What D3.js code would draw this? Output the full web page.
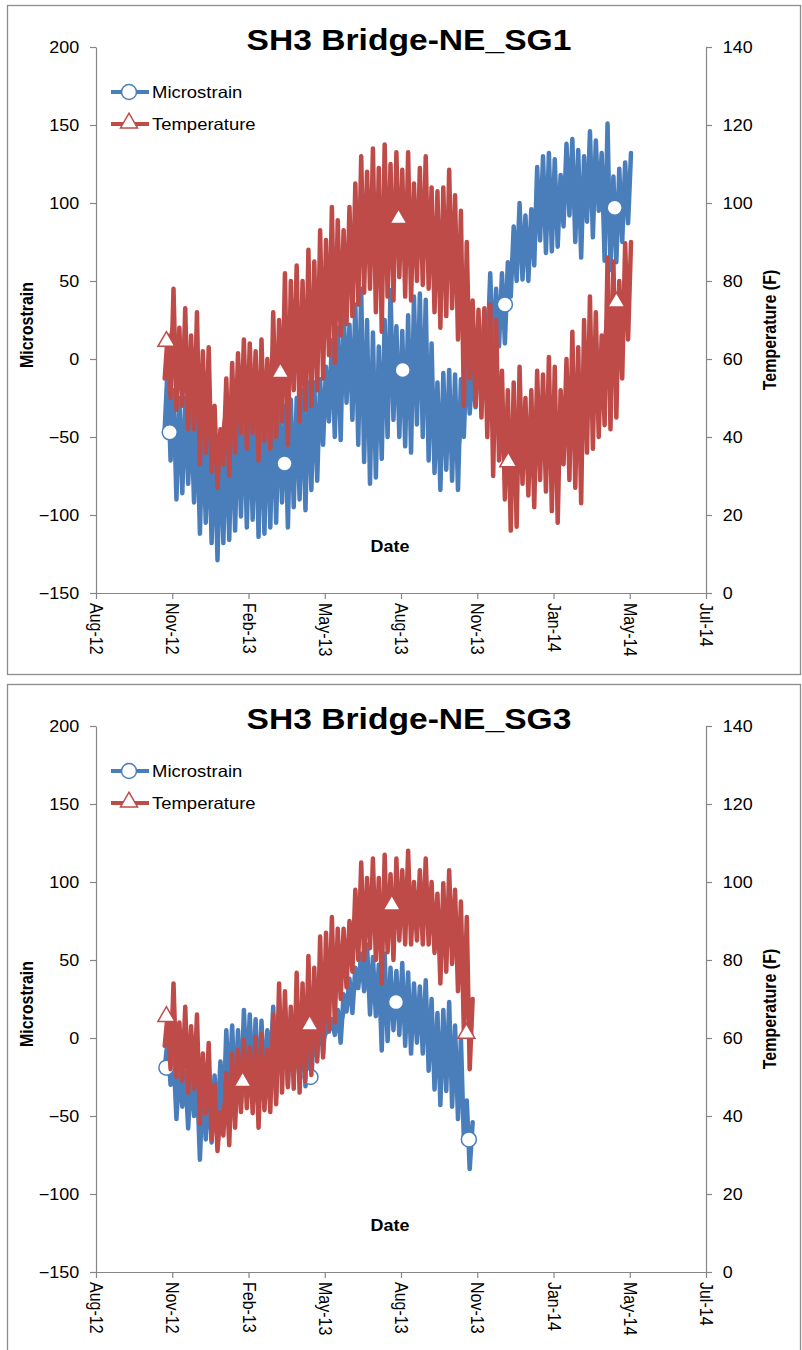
<!DOCTYPE html>
<html>
<head>
<meta charset="utf-8">
<script src="https://cdn.jsdelivr.net/npm/d3@7"></script>
<style>
  body { margin: 0; background: #fff; }
  text { font-family: "Liberation Sans", Arial, sans-serif; }
</style>
</head>
<body>
<div id="chart"></div>
<script>
// axis settings
const xTickLabels = ["Aug-12", "Nov-12", "Feb-13", "May-13", "Aug-13", "Nov-13", "Jan-14", "May-14", "Jul-14"];
const strainTicks = [-150, -100, -50, 0, 50, 100, 150, 200];
const tempTicks = [0, 20, 40, 60, 80, 100, 120, 140];
const axisStart = new Date(2012, 7, 1);
const tickStepDays = 91;

// readings: one high/low pair every 7 days from the first record
const seriesStart = new Date(2012, 9, 22);
const stepDays = 7;

// SG1
const sg1StrainHigh = [-5, -20, -25, -25, -30, -35, -40, -45, -50, -50,
  -45, -40, -35, -30, -35, -30, -35, -30, -30, -28,
  -30, -26, -25, -20, -15, -15, -13, -5, 12, 20,
  33, 22, 35, 45, 25, 17, 8, 25, 44, 21,
  18, 28, 40, 42, 38, 10, -15, -9, -7, -10,
  -13, 6, -5, 15, 30, 55, 45, 55, 62, 85,
  100, 92, 96, 123, 130, 132, 128, 118, 138, 141,
  134, 130, 146, 140, 132, 151, 117, 122, 126, 132];
const sg1StrainLow = [-45, -65, -90, -86, -80, -92, -112, -105, -118, -129,
  -118, -116, -110, -101, -108, -103, -114, -112, -108, -105,
  -92, -108, -95, -90, -97, -84, -78, -55, -40, -50,
  -52, -28, -39, -55, -66, -80, -76, -64, -50, -39,
  -50, -56, -60, -42, -50, -65, -73, -84, -71, -78,
  -84, -50, -35, -31, -10, 4, -5, 8, 10, 40,
  50, 51, 50, 60, 76, 68, 69, 72, 85, 92,
  75, 65, 88, 78, 95, 63, 57, 62, 75, 87];
const sg1TempHigh = [66, 78, 68, 73, 66, 72, 62, 63, 48, 42,
  55, 59, 61.5, 65, 64, 62, 65, 60, 72, 70,
  82, 80, 84, 80, 88, 85, 93, 90.5, 99, 95.6,
  93, 99, 105, 112, 108, 114, 109, 115, 110, 113,
  108.5, 113, 105, 109, 112, 104, 103, 104, 108.5, 102,
  98, 90, 75, 72.6, 73, 74, 70, 57, 52, 54,
  58, 50, 52, 57, 56, 60.5, 58, 52, 60, 67,
  63, 70, 76, 72, 66, 86, 85, 80, 89.7, 90];
const sg1TempLow = [55, 50, 47, 48, 42, 42, 33, 36, 31, 27,
  33, 30, 36, 41, 37, 41, 34, 39, 37, 40,
  44, 38, 52, 44, 47, 48, 52, 55, 61, 59,
  66, 69, 71, 74, 77, 78, 72, 67, 76, 75,
  81, 76, 75, 80, 79, 78, 72, 68, 71, 73,
  65, 48, 55, 48, 45, 40, 30, 34, 24, 16,
  17, 28, 25, 22, 29, 26, 21, 18, 33, 29,
  27, 23, 36, 37, 40, 43, 42, 45, 55, 65];
const sg1StrainMarkers = [["2012-10-28", -47], ["2013-03-14", -67], ["2013-08-02", -7], ["2013-12-02", 35], ["2014-04-12", 97]];
const sg1TempMarkers = [["2012-10-24", 64.5], ["2013-03-09", 56.5], ["2013-07-28", 96], ["2013-12-06", 33.6], ["2014-04-14", 74.6]];

// SG3
const sg3StrainHigh = [-1, -10, -18, -22, -20, -25, -28, -30, -24, -15,
  5, 8, 5, 18, 15, 12, 11, 5, 20, 16,
  19, 14, 7, 6, 8, 11, 19, 15, 12, 18,
  28, 38, 45, 54, 60, 52, 47, 54, 45, 43,
  48, 42, 35, 33, 37, 25, 16, 18, 23, 8,
  0, -40, -54];
const sg3StrainLow = [-20, -30, -52, -44, -58, -50, -78, -65, -67, -57,
  -52, -36, -40, -42, -30, -32, -40, -34, -22, -38,
  -21, -30, -24, -28, -31, -27, -12, -10, 4, 2,
  -3, 17, 16, 32, 30, 15, 14, -8, -2, 5,
  2, -5, -10, -3, -10, -21, -33, -43, -34, -44,
  -52, -65, -84];
const sg3TempHigh = [66, 74, 64, 68, 63, 66, 56, 58.7, 48, 41,
  51, 56, 57, 59.5, 57.7, 60.3, 61, 57, 66, 74,
  72, 68, 76.7, 74, 81, 78, 86, 87, 91, 88,
  88, 90, 98, 105, 101, 106, 101, 107, 102, 106,
  103, 108, 100, 103, 106, 100, 97, 99.7, 103, 98,
  95, 91, 70];
const sg3TempLow = [58, 52, 50, 49, 46, 47, 38, 40.7, 34, 31,
  35, 32.5, 37, 41, 42, 40.7, 37, 41.5, 41, 43,
  46, 47.4, 47, 46, 49, 50.5, 54, 55, 62, 64,
  70, 73, 77, 80, 80, 83, 80, 74, 82, 80,
  85, 84, 84, 85, 84, 84, 81.8, 74, 77, 79,
  72, 62, 52];
const sg3StrainMarkers = [["2012-10-24", -19], ["2013-01-24", -30], ["2013-04-14", -25], ["2013-07-25", 23], ["2013-10-20", -65]];
const sg3TempMarkers = [["2012-10-24", 65.5], ["2013-01-23", 48.8], ["2013-04-13", 63.3], ["2013-07-20", 94.1], ["2013-10-17", 61.2]];

const blue = "#4a7ebb";
const red = "#be4b48";
const axisColor = "#868686";
const stretch = 1.12;
const parseDate = d3.timeParse("%Y-%m-%d");

const svg = d3.select("#chart").append("svg")
  .attr("width", 802)
  .attr("height", 1350);

const tickDates = d3.range(xTickLabels.length).map(i => d3.timeDay.offset(axisStart, i * tickStepDays));

const x = d3.scaleTime()
  .domain([tickDates[0], tickDates[tickDates.length - 1]])
  .range([96, 706]);
const yStrain = d3.scaleLinear().domain([-150, 200]).range([593, 47]);
const yTemp = d3.scaleLinear().domain([0, 140]).range([593, 47]);

// high/low readings turned into one jagged trace
function trace(high, low) {
  const pts = [];
  low.forEach((lo, i) => {
    const t = d3.timeDay.offset(seriesStart, i * stepDays);
    pts.push([t, lo]);
    pts.push([d3.timeHour.offset(t, stepDays * 12), high[i]]);
  });
  return pts;
}

// the solid middle of the daily swing, so the band reads as filled
function core(high, low) {
  return low.map((lo, i) => ({
    t: d3.timeHour.offset(d3.timeDay.offset(seriesStart, i * stepDays), stepDays * 6),
    lo: lo + 0.3 * (high[i] - lo),
    hi: high[i] - 0.3 * (high[i] - lo)
  }));
}

const triangle = d3.symbol().type(d3.symbolTriangle).size(125);

function styleAxis(a) {
  a.select(".domain").attr("stroke", axisColor).attr("stroke-width", 1.2);
  a.selectAll(".tick line").attr("stroke", axisColor).attr("stroke-width", 1.2);
  a.selectAll(".tick text").attr("fill", "#000").style("font-size", "16px");
}

function drawSeries(g, high, low, y, color) {
  g.append("path")
    .datum(core(high, low))
    .attr("d", d3.area().x(d => x(d.t)).y0(d => y(d.lo)).y1(d => y(d.hi)))
    .attr("fill", color);
  g.append("path")
    .datum(trace(high, low))
    .attr("d", d3.line().x(d => x(d[0])).y(d => y(d[1])))
    .attr("fill", "none").attr("stroke", color)
    .attr("stroke-width", 4.5)
    .attr("stroke-linejoin", "round").attr("stroke-linecap", "round");
}

function drawPanel(top, title, strainHigh, strainLow, tempHigh, tempLow, strainMarks, tempMarks) {
  const g = svg.append("g").attr("transform", `translate(0,${top})`);

  g.append("rect")
    .attr("x", 7.5).attr("y", 5.5)
    .attr("width", 793).attr("height", 669)
    .attr("fill", "#fff")
    .attr("stroke", "#8c8c8c")
    .attr("stroke-width", 1.3);

  // axes
  const left = g.append("g").attr("transform", "translate(96,0)")
    .call(d3.axisLeft(yStrain).tickValues(strainTicks).tickSize(6).tickSizeOuter(0).tickPadding(9).tickFormat(d3.format("d")));
  styleAxis(left);
  left.selectAll(".tick text").attr("transform", `scale(${stretch},1)`);

  const right = g.append("g").attr("transform", "translate(706,0)")
    .call(d3.axisRight(yTemp).tickValues(tempTicks).tickSize(6).tickSizeOuter(0).tickPadding(9));
  styleAxis(right);
  right.selectAll(".tick text").attr("transform", `scale(${stretch},1)`);

  const bottom = g.append("g").attr("transform", "translate(0,593)")
    .call(d3.axisBottom(x).tickValues(tickDates).tickSize(6).tickSizeOuter(0).tickFormat((d, i) => xTickLabels[i]));
  styleAxis(bottom);
  bottom.selectAll(".tick text")
    .attr("x", 10).attr("y", 0).attr("dy", "0.35em")
    .attr("transform", `rotate(90) scale(1,${stretch})`)
    .style("text-anchor", "start");

  // axis titles
  g.append("text")
    .attr("transform", `translate(27,325) rotate(-90) scale(1,${stretch})`)
    .attr("text-anchor", "middle").attr("dy", "0.35em")
    .style("font-size", "16px").style("font-weight", "bold")
    .text("Microstrain");
  g.append("text")
    .attr("transform", `translate(770,330) rotate(-90) scale(1,${stretch})`)
    .attr("text-anchor", "middle").attr("dy", "0.35em")
    .style("font-size", "16px").style("font-weight", "bold")
    .text("Temperature (F)");
  g.append("text")
    .attr("transform", `translate(390,552) scale(${stretch},1)`)
    .attr("text-anchor", "middle")
    .style("font-size", "16px").style("font-weight", "bold")
    .text("Date");

  // microstrain series
  drawSeries(g, strainHigh, strainLow, yStrain, blue);
  g.selectAll(".strain-mark")
    .data(strainMarks)
    .join("circle")
    .attr("cx", d => x(parseDate(d[0])))
    .attr("cy", d => yStrain(d[1]))
    .attr("r", 7.5)
    .attr("fill", "#fff").attr("stroke", blue).attr("stroke-width", 1.5);

  // temperature series
  drawSeries(g, tempHigh, tempLow, yTemp, red);
  g.selectAll(".temp-mark")
    .data(tempMarks)
    .join("path")
    .attr("d", triangle)
    .attr("transform", d => `translate(${x(parseDate(d[0]))},${yTemp(d[1])})`)
    .attr("fill", "#fff").attr("stroke", red).attr("stroke-width", 1.5);

  // legend
  const legend = g.append("g");
  const items = [["Microstrain", blue, "circle", 92], ["Temperature", red, "triangle", 124]];
  items.forEach(([name, color, shape, ly]) => {
    legend.append("line")
      .attr("x1", 111).attr("x2", 149).attr("y1", ly).attr("y2", ly)
      .attr("stroke", color).attr("stroke-width", 4);
    if (shape === "circle") {
      legend.append("circle").attr("cx", 129).attr("cy", ly).attr("r", 7.5)
        .attr("fill", "#fff").attr("stroke", color).attr("stroke-width", 1.5);
    } else {
      legend.append("path").attr("d", triangle)
        .attr("transform", `translate(129,${ly - 1})`)
        .attr("fill", "#fff").attr("stroke", color).attr("stroke-width", 1.5);
    }
    legend.append("text")
      .attr("transform", `translate(152,${ly}) scale(${stretch},1)`)
      .attr("dy", "0.35em")
      .style("font-size", "16.5px")
      .text(name);
  });

  // title
  g.append("text")
    .attr("transform", `translate(409,50) scale(${stretch},1)`)
    .attr("text-anchor", "middle")
    .style("font-size", "30px").style("font-weight", "bold")
    .text(title);
}

drawPanel(0, "SH3 Bridge-NE_SG1", sg1StrainHigh, sg1StrainLow, sg1TempHigh, sg1TempLow, sg1StrainMarkers, sg1TempMarkers);
drawPanel(679, "SH3 Bridge-NE_SG3", sg3StrainHigh, sg3StrainLow, sg3TempHigh, sg3TempLow, sg3StrainMarkers, sg3TempMarkers);
</script>
</body>
</html>
